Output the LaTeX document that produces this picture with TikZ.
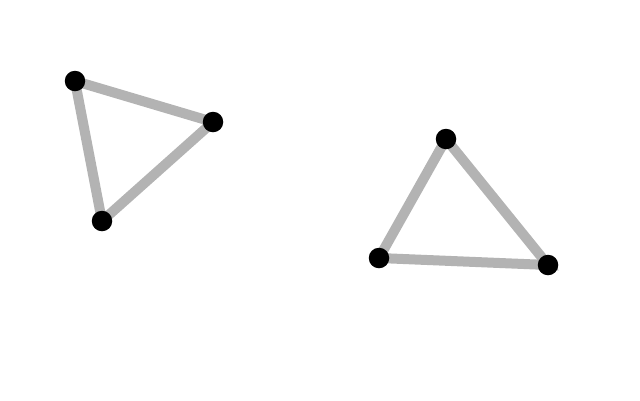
\documentclass[tikz,border=0pt]{standalone}
\begin{document}
\begin{tikzpicture}[x=1pt,y=-1pt,
  dot/.style={circle,fill=black,inner sep=0pt,minimum size=20.5pt},
  link/.style={draw={rgb,255:red,179;green,179;blue,179},line width=10pt}]
\useasboundingbox (0,0) rectangle (640,400);
\coordinate (a1) at (75,81);
\coordinate (a2) at (213,122);
\coordinate (a3) at (102,221);
\coordinate (b1) at (446,139);
\coordinate (b2) at (379,258);
\coordinate (b3) at (548,265);
\draw[link] (a1) -- (a2) -- (a3) -- cycle;
\draw[link] (b1) -- (b3) -- (b2) -- cycle;
\foreach \n in {a1,a2,a3,b1,b2,b3}
  \node[dot] (d\n) at (\n) {};
\end{tikzpicture}
\end{document}
